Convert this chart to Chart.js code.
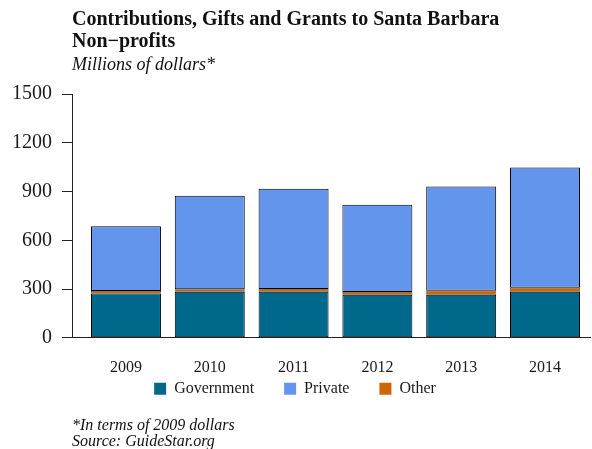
<!DOCTYPE html>
<html>
<head>
<meta charset="utf-8">
<script src="https://cdn.jsdelivr.net/npm/chart.js@4/dist/chart.umd.min.js"></script>
<style>
  body { margin: 0; background: #fff; }
  #wrap { position: relative; width: 592px; height: 449px; font-family: 'Liberation Serif', serif; color: #111; }
  #chart { position: absolute; left: 0; top: 0; }
  .title { position: absolute; left: 72px; top: 8px; font-size: 20px; font-weight: bold; line-height: 21.5px; }
  .subtitle { position: absolute; left: 72px; top: 55px; font-size: 18px; font-style: italic; line-height: 18px; }
  .note { position: absolute; left: 72px; top: 417px; font-size: 16px; font-style: italic; line-height: 16px; }
</style>
</head>
<body>
<div id="wrap">
  <canvas id="chart" width="592" height="449"></canvas>
  <div class="title">Contributions, Gifts and Grants to Santa Barbara<br>Non&minus;profits</div>
  <div class="subtitle">Millions of dollars*</div>
  <div class="note">*In terms of 2009 dollars<br>Source: GuideStar.org</div>
</div>
<script>
// Chart data (millions of 2009 dollars)
const years = [2009, 2010, 2011, 2012, 2013, 2014];
const government = [273, 283, 284, 265, 265, 284];
const other = [15, 16, 17, 17, 25, 24];
const privateGifts = [399, 575, 616, 537, 641, 740];
const yTicks = [0, 300, 600, 900, 1200, 1500];

// Legend shows Government, Private, Other; stack is Government, Other, Private
const legendOrder = ['Government', 'Private', 'Other'];

const serif = 'Liberation Serif';
const ink = '#1a1a1a';

function toPoints(values) {
    return years.map((yr, i) => ({ x: yr, y: values[i] }));
}

function makeSet(label, values, color, edge) {
    return {
        label: label,
        data: toPoints(values),
        backgroundColor: color,
        borderColor: '#000',
        borderWidth: edge,
        borderSkipped: false,
        barPercentage: 0.835,
        categoryPercentage: 1
    };
}

// Pull the legend up under the year labels (its padding also sets item spacing)
const legendNudge = {
    id: 'legendNudge',
    afterLayout(chart) {
        const lg = chart.legend;
        if (!lg) return;
        const dy = lg.top - (chart.chartArea.bottom + 13);
        lg.top -= dy;
        lg.bottom -= dy;
    }
};

new Chart(document.getElementById('chart'), {
    type: 'bar',
    data: {
        datasets: [
            makeSet('Government', government, '#00688B', 1),
            makeSet('Other', other, '#CD6600', 0.5),
            makeSet('Private', privateGifts, '#6495ED', 1)
        ]
    },
    options: {
        responsive: false,
        animation: false,
        layout: { padding: { top: 94, right: 2, bottom: -4, left: 0 } },
        scales: {
            x: {
                type: 'linear',
                stacked: true,
                offset: false,
                min: 2008.356,
                max: 2014.537,
                grid: { display: false, drawTicks: false },
                border: { display: true, color: '#222', width: 1 },
                afterBuildTicks: scale => {
                    scale.ticks = years.map(v => ({ value: v }));
                },
                ticks: {
                    padding: 20,
                    autoSkip: false,
                    maxRotation: 0,
                    color: ink,
                    font: { family: serif, size: 16 },
                    callback: value => String(value)
                }
            },
            y: {
                stacked: true,
                min: 0,
                max: 1500,
                afterBuildTicks: scale => {
                    scale.ticks = yTicks.map(v => ({ value: v }));
                },
                afterFit: scale => { scale.width = 72; },
                grid: { display: true, drawOnChartArea: false, drawTicks: true, tickLength: 10, color: '#222' },
                border: { display: true, color: '#222', width: 1 },
                ticks: {
                    padding: 10,
                    color: ink,
                    font: { family: serif, size: 20 },
                    callback: value => String(value)
                }
            }
        },
        plugins: {
            tooltip: { enabled: false },
            title: { display: false },
            legend: {
                position: 'bottom',
                labels: {
                    boxWidth: 12,
                    boxHeight: 12,
                    padding: 30,
                    color: ink,
                    font: { family: serif, size: 16 },
                    generateLabels: chart => chart.data.datasets.map((ds, i) => ({
                        text: ds.label,
                        fillStyle: ds.backgroundColor,
                        strokeStyle: ds.backgroundColor,
                        lineWidth: 0,
                        fontColor: ink,
                        hidden: false,
                        datasetIndex: i
                    })),
                    sort: (a, b) => legendOrder.indexOf(a.text) - legendOrder.indexOf(b.text)
                }
            }
        }
    },
    plugins: [legendNudge]
});
</script>
</body>
</html>
